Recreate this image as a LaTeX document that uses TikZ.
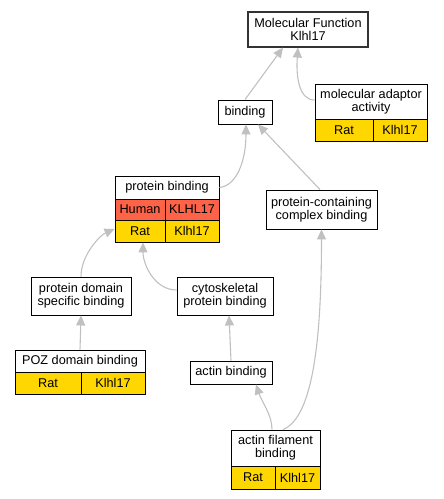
\documentclass[tikz,border=0pt]{standalone}
\usepackage{fontspec}
\setmainfont{Liberation Sans}
\usetikzlibrary{arrows.meta}
\definecolor{edgegray}{HTML}{C0C0C0}
\definecolor{human}{HTML}{FF6347}
\definecolor{rat}{HTML}{FFD700}
\tikzset{
  box/.style={draw=black, line width=0.9pt, fill=white, inner sep=0pt, align=center,
    font=\fontsize{12.7}{13}\selectfont},
  cell/.style={box},
  humancell/.style={box, fill=human},
  ratcell/.style={box, fill=rat},
  edge/.style={draw=edgegray, line width=1.1pt, -{Triangle[length=10pt,width=9pt]}},
}
\begin{document}
\begin{tikzpicture}[x=1pt,y=-1pt]
\useasboundingbox (0,0) rectangle (444,499);
% nodes
\node[box, draw=black!80, line width=1.1pt, minimum width=120pt, minimum height=35pt] (mf) at (308,29.5) {Molecular Function\\Klhl17};
\node[box, minimum width=54pt, minimum height=24pt] (bind) at (245,112) {binding};
\node[box, minimum width=112pt, minimum height=35pt] (ma) at (371,101.5) {molecular adaptor\\activity};
\node[ratcell, minimum width=58pt, minimum height=22pt] (marat) at (344,130) {Rat};
\node[ratcell, minimum width=54pt, minimum height=22pt] (magene) at (400,130) {Klhl17};
\node[box, minimum width=104pt, minimum height=23pt] (pb) at (167,187.5) {protein binding};
\node[humancell, minimum width=50pt, minimum height=21pt] (pbhum) at (140,209.5) {Human};
\node[humancell, minimum width=54pt, minimum height=21pt] (pbhgene) at (192,209.5) {KLHL17};
\node[ratcell, minimum width=50pt, minimum height=22pt] (pbrat) at (140,231) {Rat};
\node[ratcell, minimum width=54pt, minimum height=22pt] (pbrgene) at (192,231) {Klhl17};
\node[box, minimum width=111pt, minimum height=39pt] (pccb) at (321.5,209.5) {protein-containing\\complex binding};
\node[box, minimum width=100pt, minimum height=38pt] (pdsb) at (81,296) {protein domain\\specific binding};
\node[box, minimum width=96pt, minimum height=38pt] (cpb) at (225,296) {cytoskeletal\\protein binding};
\node[box, minimum width=130pt, minimum height=22pt] (poz) at (80,361) {POZ domain binding};
\node[ratcell, minimum width=66pt, minimum height=22pt] (pozrat) at (48,383) {Rat};
\node[ratcell, minimum width=64pt, minimum height=22pt] (pozgene) at (113,383) {Klhl17};
\node[box, minimum width=82pt, minimum height=23pt] (ab) at (231,372.5) {actin binding};
\node[box, minimum width=89pt, minimum height=36pt] (afb) at (275.5,448) {actin filament\\binding};
\node[ratcell, minimum width=44pt, minimum height=23pt] (afbrat) at (253,477.5) {Rat};
\node[ratcell, minimum width=45pt, minimum height=23pt] (afbgene) at (297.5,477.5) {Klhl17};
% edges
\draw[edge] (bind.north) -- ([xshift=-25pt]mf.south);
\draw[edge] ([yshift=1.5pt]ma.west) .. controls +(-16,0) and +(-2,28) .. ([xshift=-10pt]mf.south);
\draw[edge] (pb.east) .. controls +(18,-2) and +(0,35) .. ([xshift=1pt]bind.south);
\draw[edge] ([xshift=-1.5pt]pccb.north) -- ([xshift=13pt]bind.south);
\draw[edge] (pdsb.north) .. controls +(0,-22) and +(-14,6) .. ([yshift=2pt]pbrat.west);
\draw[edge] ([yshift=6pt]cpb.west) .. controls +(-22,0) and +(0,22) .. ([xshift=3pt]pbrat.south);
\draw[edge] (poz.north) -- ([xshift=0pt]pdsb.south);
\draw[edge] (ab.north) -- ([xshift=4pt]cpb.south);
\draw[edge] ([xshift=-3.5pt]afb.north) .. controls +(0,-15) and +(6,18) .. ([xshift=25pt]ab.south);
\draw[edge] ([xshift=7.5pt]afb.north) .. controls +(30,-12) and +(0,110) .. (pccb.south);
\end{tikzpicture}
\end{document}
